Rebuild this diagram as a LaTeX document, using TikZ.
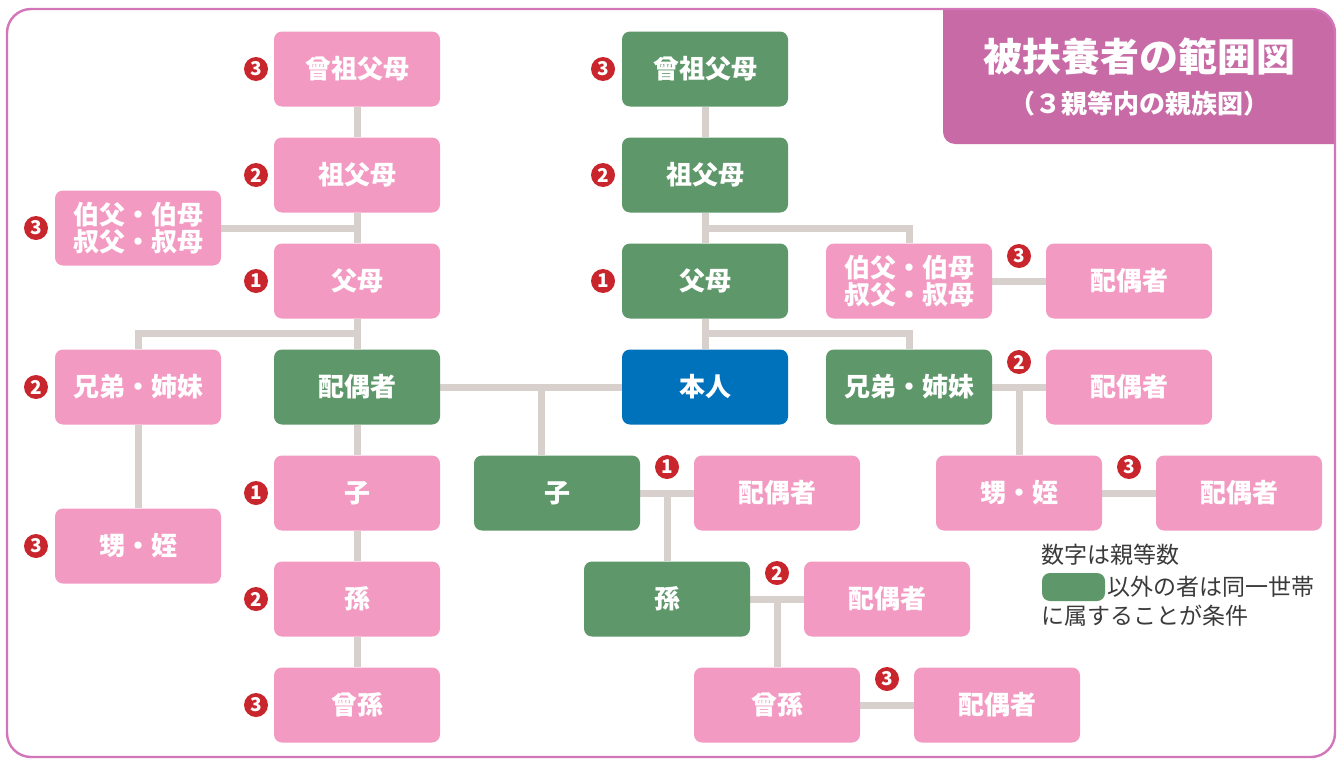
\documentclass[tikz,border=0pt]{standalone}
\usepackage{fontspec}
\setmainfont{Noto Sans CJK JP}
\usetikzlibrary{backgrounds}
\definecolor{pinkc}{HTML}{F39AC3}
\definecolor{greenc}{HTML}{5E9769}
\definecolor{bluec}{HTML}{0071BB}
\definecolor{redc}{HTML}{C9252D}
\definecolor{linec}{HTML}{D8D0CD}
\definecolor{titlec}{HTML}{C76AA6}
\definecolor{bordc}{HTML}{D276B9}
\definecolor{legtext}{HTML}{3A3A3A}
\tikzset{
  box/.style={rounded corners=4pt, minimum width=83pt, minimum height=37.5pt, inner sep=0pt,
    text=white, font=\fontsize{13}{13.5}\selectfont\bfseries, align=center},
  pinkbox/.style={box, fill=pinkc},
  greenbox/.style={box, fill=greenc},
  bluebox/.style={box, fill=bluec},
  badge/.style={circle, fill=redc, minimum size=12pt, inner sep=0pt, text=white,
    font=\fontsize{9.5}{9.5}\selectfont\bfseries},
  conn/.style={draw=linec, line width=3.5pt},
  legtxt/.style={anchor=west, inner sep=0pt, text=legtext, font=\fontsize{11.5}{12}\selectfont},
}
\begin{document}
\begin{tikzpicture}[x=0.5pt, y=-0.5pt]
\useasboundingbox (0,0) rectangle (1339,760);
% title box
\fill[titlec] (943,9) -- (1313,9) arc[start angle=90, end angle=0, radius=11pt] -- (1335,144)
  -- (955,144) arc[start angle=270, end angle=180, radius=6pt] -- cycle;
\draw[bordc, line width=1.2pt, rounded corners=12pt] (7,9) rectangle (1335,757);
\node[text=white, font=\fontsize{19.5}{20}\selectfont\bfseries, inner sep=0pt] (title) at (1139,57) {被扶養者の範囲図};
\node[text=white, font=\fontsize{13}{13}\selectfont\bfseries, inner sep=0pt] (subtitle) at (1139,104) {（３親等内の親族図）};

% left side
\node[pinkbox] (Lggp) at (357,69) {曾祖父母};
\node[pinkbox] (Lgp) at (357,175) {祖父母};
\node[pinkbox] (Lp) at (357,281) {父母};
\node[greenbox] (Ls) at (357,387) {配偶者};
\node[pinkbox] (Lc) at (357,493) {子};
\node[pinkbox] (Lgc) at (357,599) {孫};
\node[pinkbox] (Lggc) at (357,705) {曾孫};
\node[pinkbox] (Lu) at (138,228) {伯父・伯母\\叔父・叔母};
\node[pinkbox] (Lsib) at (138,387) {兄弟・姉妹};
\node[pinkbox] (Lnep) at (138,546) {甥・姪};

% middle
\node[greenbox] (Mggp) at (705,69) {曾祖父母};
\node[greenbox] (Mgp) at (705,175) {祖父母};
\node[greenbox] (Mp) at (705,281) {父母};
\node[bluebox] (me) at (705,387) {本人};
\node[greenbox] (Mc) at (557,493) {子};
\node[pinkbox] (Mcs) at (777,493) {配偶者};
\node[greenbox] (Mgc) at (667,599) {孫};
\node[pinkbox] (Mgcs) at (887,599) {配偶者};
\node[pinkbox] (Mggc) at (777,705) {曾孫};
\node[pinkbox] (Mggcs) at (997,705) {配偶者};

% right
\node[pinkbox] (Ru) at (909,281) {伯父・伯母\\叔父・叔母};
\node[pinkbox] (Rus) at (1129,281) {配偶者};
\node[greenbox] (Rsib) at (909,387) {兄弟・姉妹};
\node[pinkbox] (Rsibs) at (1129,387) {配偶者};
\node[pinkbox] (Rnep) at (1019,493) {甥・姪};
\node[pinkbox] (Rneps) at (1239,493) {配偶者};

% badges
\node[badge] (b1) at (256,69) {3};
\node[badge] (b2) at (256,175) {2};
\node[badge] (b3) at (256,281) {1};
\node[badge] (b4) at (256,493) {1};
\node[badge] (b5) at (256,599) {2};
\node[badge] (b6) at (256,705) {3};
\node[badge] (b7) at (36,228) {3};
\node[badge] (b8) at (36,387) {2};
\node[badge] (b9) at (36,546) {3};
\node[badge] (b10) at (603,69) {3};
\node[badge] (b11) at (603,175) {2};
\node[badge] (b12) at (603,281) {1};
\node[badge] (b13) at (1019,256) {3};
\node[badge] (b14) at (1019,362) {2};
\node[badge] (b15) at (1129,467) {3};
\node[badge] (b16) at (667,467) {1};
\node[badge] (b17) at (777,573) {2};
\node[badge] (b18) at (887,679) {3};

% legend
\node[legtxt] (leg1) at (1041,555) {数字は親等数};
\node[fill=greenc, rounded corners=4pt, minimum width=31.5pt, minimum height=14pt, inner sep=0pt] (legbox) at (1073.5,587) {};
\node[legtxt] (leg2) at (1107,587) {以外の者は同一世帯};
\node[legtxt] (leg3) at (1041,616) {に属することが条件};

% junction coordinates
\coordinate (jL) at (357,333);
\coordinate (jC) at (541,387);
\coordinate (jU) at (705,228);
\coordinate (jS) at (705,333);
\coordinate (jN) at (1019,387);
\coordinate (jG) at (667,493);
\coordinate (jGG) at (777,599);

\begin{pgfonlayer}{background}
\draw[conn] (Lggp) -- (Lgp);
\draw[conn] (Lgp) -- (Lp);
\draw[conn] (Lp) -- (Ls);
\draw[conn] (Ls) -- (Lc);
\draw[conn] (Lc) -- (Lgc);
\draw[conn] (Lgc) -- (Lggc);
\draw[conn] (Lu.east) -- (Lu.east -| Lgp.south);
\draw[conn] (jL) -| (Lsib.north);
\draw[conn] (Lsib) -- (Lnep);
\draw[conn] (Ls) -- (me);
\draw[conn] (jC) -- (jC |- Mc.north);
\draw[conn] (Mggp) -- (Mgp);
\draw[conn] (Mgp) -- (Mp);
\draw[conn] (Mp) -- (me);
\draw[conn] (jU) -| (Ru.north);
\draw[conn] (jS) -| (Rsib.north);
\draw[conn] (Ru) -- (Rus);
\draw[conn] (Rsib) -- (Rsibs);
\draw[conn] (jN) -- (Rnep.north);
\draw[conn] (Rnep) -- (Rneps);
\draw[conn] (Mc) -- (Mcs);
\draw[conn] (jG) -- (Mgc.north);
\draw[conn] (Mgc) -- (Mgcs);
\draw[conn] (jGG) -- (Mggc.north);
\draw[conn] (Mggc) -- (Mggcs);
\end{pgfonlayer}
\end{tikzpicture}
\end{document}
